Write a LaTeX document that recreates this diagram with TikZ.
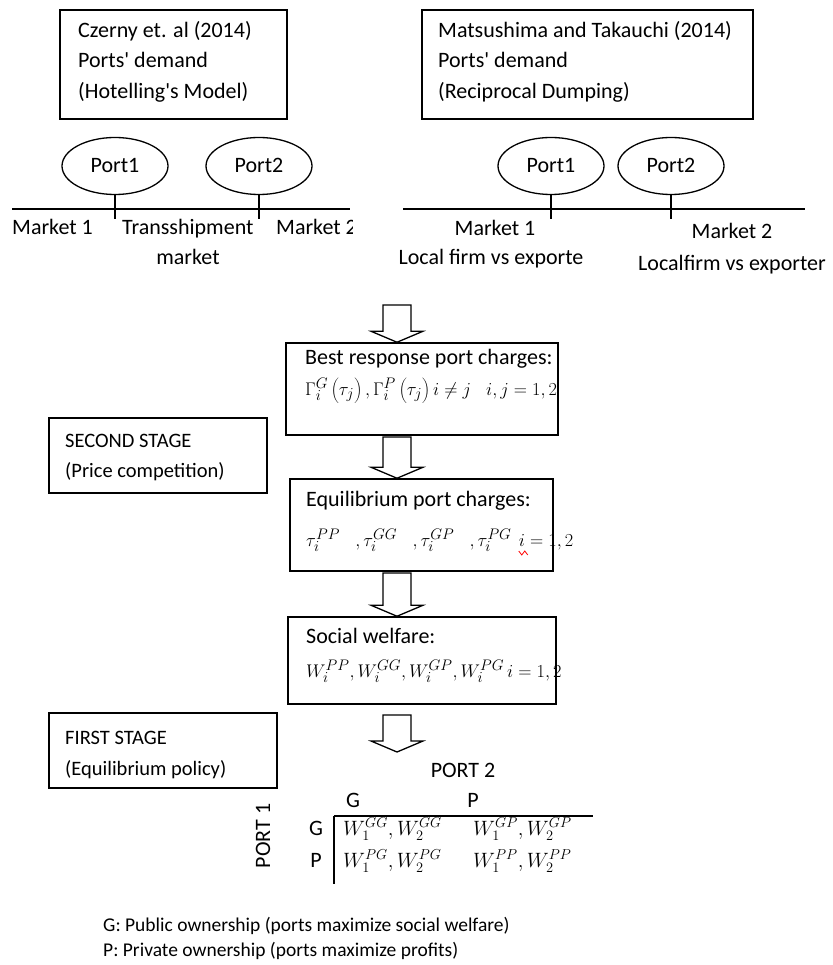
\documentclass[tikz,border=0pt]{standalone}
\usepackage{fontspec}
\setmainfont{Carlito}
\usetikzlibrary{shapes.geometric,calc}
\newcommand\hollowarr[2]{\draw[harrowst] let \p1=(#1), \p2=(#2) in
  (\x1-14pt,\y1) -- (\x1+14pt,\y1) -- (\x1+14pt,\y2+11pt) -- (\x1+26pt,\y2+11pt)
  -- (\x1,\y2) -- (\x1-26pt,\y2+11pt) -- (\x1-14pt,\y2+11pt) -- cycle;}
\begin{document}
\begin{tikzpicture}[x=1pt,y=-1pt,
  box/.style={draw, line width=1.5pt, inner sep=0pt},
  port/.style={draw, ellipse, line width=1.3pt, minimum width=106pt, minimum height=57pt, inner sep=0pt, text height=14pt, text depth=0pt, font=\fontsize{22}{26}\selectfont},
  txt/.style={inner sep=0pt, anchor=base west, font=\fontsize{22}{26}\selectfont},
  stxt/.style={inner sep=0pt, anchor=base west, font=\fontsize{20.5}{24}\selectfont},
  ctxt/.style={inner sep=0pt, anchor=base, font=\fontsize{22}{26}\selectfont},
  mth/.style={inner sep=0pt, anchor=base west, scale=1.06, font=\fontsize{19}{24}\selectfont},
  cell/.style={inner sep=0pt, anchor=base west, font=\fontsize{20.5}{24}\selectfont},
  leg/.style={inner sep=0pt, anchor=base west, font=\fontsize{19.5}{24}\selectfont},
  harrowst/.style={draw, line width=1.3pt, fill=white, line join=miter},
  mline/.style={line width=1.3pt}
]
\fill[white] (0,0) rectangle (832,965);
\useasboundingbox (0,0) rectangle (832,965);

% ---------- top left ----------
\node[box, minimum width=227pt, minimum height=109pt] (tl) at (173.5,64.5) {};
\node[txt] (tl1) at (78,38) {Czerny et. al (2014)};
\node[txt] (tl2) at (78,68) {Ports\textquotesingle{} demand};
\node[txt] (tl3) at (78,99) {(Hotelling\textquotesingle{}s Model)};

\node[port] (lp1) at (115,166) {Port1};
\node[port] (lp2) at (259,166) {Port2};
\coordinate (ll1) at (12,209);
\coordinate (ll2) at (350,209);
\draw[mline] (ll1) -- (ll2);
\draw[mline] (lp1.south) -- ++(0,24);
\draw[mline] (lp2.south) -- ++(0,24);
\node[txt] (lm1) at (12,235) {Market 1};
\node[txt] (lts) at (122,235) {Transshipment};
\begin{scope}
\clip (270,215) rectangle (352,250);
\node[txt] (lm2) at (276,235) {Market 2};
\end{scope}
\node[ctxt] (ltm) at (188,265) {market};

% ---------- top right ----------
\node[box, minimum width=331pt, minimum height=109pt] (tr) at (587.5,64.5) {};
\node[txt] (tr1) at (438,38) {Matsushima and Takauchi (2014)};
\node[txt] (tr2) at (438,68) {Ports\textquotesingle{} demand};
\node[txt] (tr3) at (438,99) {(Reciprocal Dumping)};

\node[port] (rp1) at (551,166) {Port1};
\node[port] (rp2) at (671,166) {Port2};
\coordinate (rl1) at (403,209);
\coordinate (rl2) at (805,209);
\draw[mline] (rl1) -- (rl2);
\draw[mline] (rp1.south) -- ++(0,24);
\draw[mline] (rp2.south) -- ++(0,24);
\node[ctxt] (rm1) at (495,236) {Market 1};
\node[ctxt] (rlf1) at (491,265) {Local firm vs exporte};
\node[ctxt] (rm2) at (732,239) {Market 2};
\node[ctxt] (rlf2) at (732,270) {Localfirm vs exporter};

% ---------- flow ----------
\node[box, minimum width=272pt, minimum height=92pt] (b1) at (422,389) {};
\node[txt] (b1t) at (305,364) {Best response port charges:};
\node[mth] (b1m) at (305,395) {$\Gamma^{G}_{i}\left(\tau_{j}\right),\Gamma^{P}_{i}\left(\tau_{j}\right) i\neq j\;\;\; i,j=1,2$};

\node[box, minimum width=263pt, minimum height=92pt] (b2) at (421.5,525) {};
\node[txt] (b2t) at (306,506) {Equilibrium port charges:};
\node[mth] (b2m) at (306,546) {$\tau_{i}^{PP}\;\;\;,\tau_{i}^{GG}\;\;\;,\tau_{i}^{GP}\;\;\;,\tau_{i}^{PG}$};
\node[mth] (b2i) at ($(b2m.base east)+(7,0)$) {$i=1,2$};
\draw[red, line width=0.8pt] ($(b2i.base west)+(0,5)$) -- ++(3,4) -- ++(3,-4) -- ++(3,4);

\node[box, minimum width=268pt, minimum height=87pt] (b3) at (422,660.5) {};
\node[txt] (b3t) at (306,643) {Social welfare:};
\node[mth] (b3m) at (306,677) {$W_{i}^{PP},W_{i}^{GG},W_{i}^{GP},W_{i}^{PG}\,i=1,2$};

\coordinate (a1top) at (397,305);
\coordinate (a2top) at (397,437);
\coordinate (a3top) at (397,573);
\coordinate (a4top) at (397,715);
\coordinate (a4tip) at (397,752);
\hollowarr{a1top}{a1top |- b1.north}
\hollowarr{a2top}{a2top |- b2.north}
\hollowarr{a3top}{a3top |- b3.north}
\hollowarr{a4top}{a4tip}

% ---------- stages ----------
\node[box, minimum width=218pt, minimum height=75pt] (s2) at (158,455.5) {};
\node[stxt] (s2a) at (65,447) {SECOND STAGE};
\node[stxt] (s2b) at (65,477) {(Price competition)};

\node[box, minimum width=228pt, minimum height=75pt] (s1) at (163,750.5) {};
\node[stxt] (s1a) at (65,744) {FIRST STAGE};
\node[stxt] (s1b) at (65,775) {(Equilibrium policy)};

% ---------- matrix ----------
\node[ctxt] (p2) at (463,777) {PORT 2};
\node[ctxt] (hg) at (353,807) {G};
\node[ctxt] (hp) at (473,807) {P};
\node[ctxt] (rg) at (316,835) {G};
\node[ctxt] (rp) at (316,867) {P};
\node[inner sep=0pt, rotate=90, font=\fontsize{22}{26}\selectfont] (p1) at (263,836) {PORT 1};
\draw[mline] (334,816) -- (593,816);
\draw[mline] (334,816) -- (334,884);
\node[cell] (cgg) at (343,835) {$W_{1}^{GG},W_{2}^{GG}$};
\node[cell] (cgp) at (473,835) {$W_{1}^{GP},W_{2}^{GP}$};
\node[cell] (cpg) at (343,867) {$W_{1}^{PG},W_{2}^{PG}$};
\node[cell] (cpp) at (473,867) {$W_{1}^{PP},W_{2}^{PP}$};

% ---------- legend ----------
\node[leg] (lg1) at (103,931) {G: Public ownership (ports maximize social welfare)};
\node[leg] (lg2) at (103,956) {P: Private ownership (ports maximize profits)};
\end{tikzpicture}
\end{document}
